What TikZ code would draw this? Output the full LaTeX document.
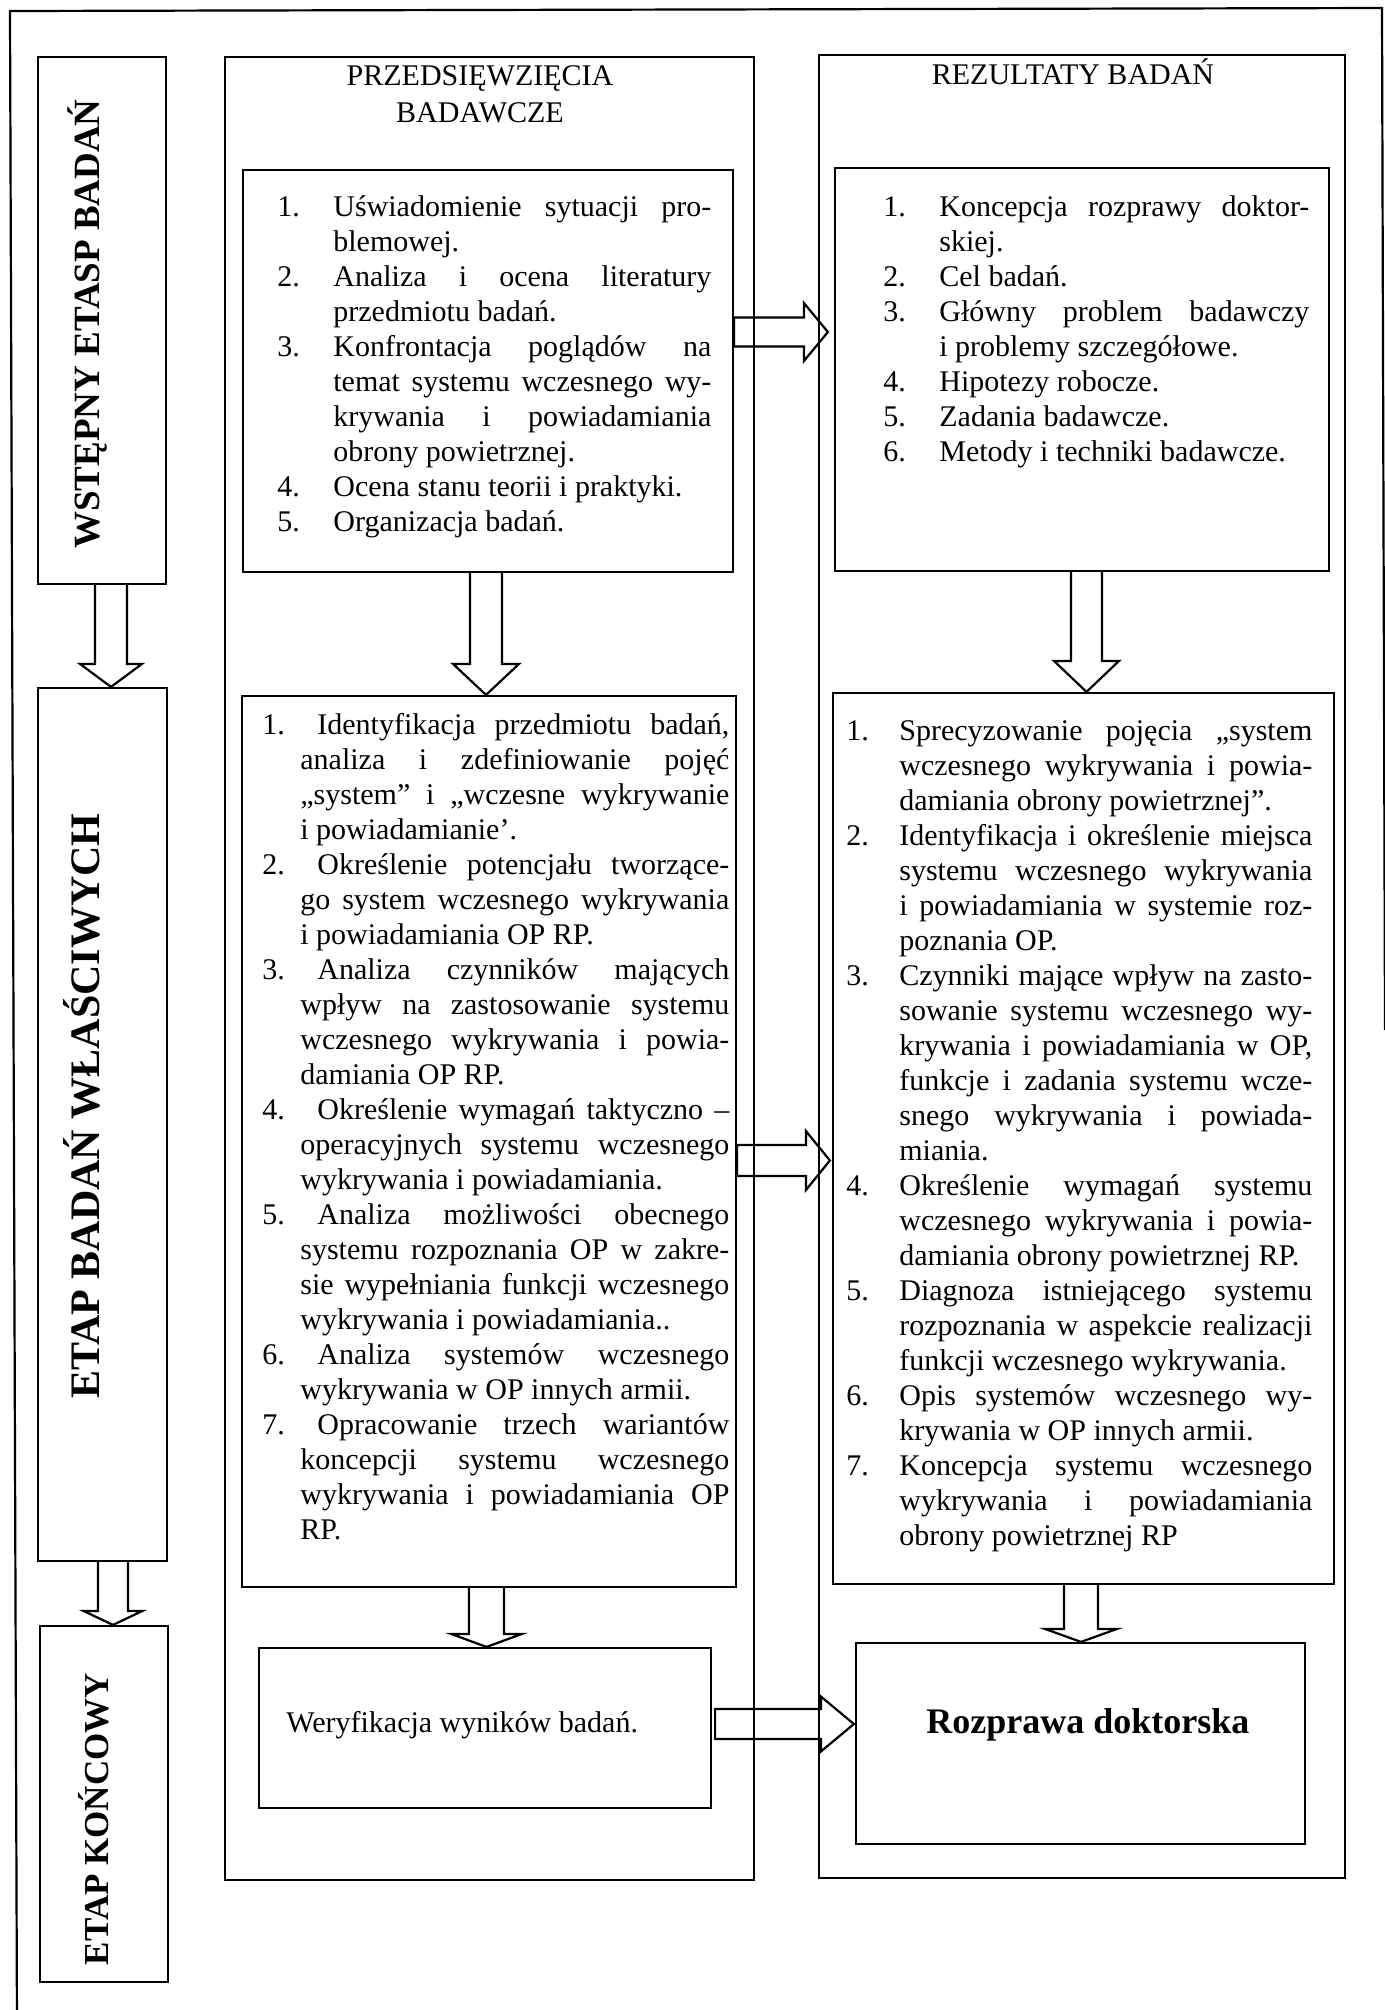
\documentclass[tikz,border=0pt]{standalone}
\usepackage{fontspec}
\setmainfont{Liberation Serif}
\usetikzlibrary{calc,fit}
\newcommand\listsetup{\fontsize{15pt}{17.5pt}\selectfont\parindent=0pt\parskip=0pt\leftskip=0pt\rightskip=0pt\tolerance=10000\pretolerance=-1\hyphenpenalty=10000\hbadness=10000\lineskiplimit=-20pt\emergencystretch=0pt}
\newcommand\li[3]{\noindent\hangindent=#1\relax\hangafter=1\relax\makebox[#2][l]{#3}\ignorespaces}
% down block arrow: from, to, x centre, shaft half width, head half width, head length (all px)
\newcommand\blkdown[6]{\draw[blk] let \p1=(#1.south), \p2=(#2.north) in
  ({(#3-#4)*0.5pt},\y1) -- ({(#3-#4)*0.5pt},{\y2+#6*0.5pt}) -- ({(#3-#5)*0.5pt},{\y2+#6*0.5pt})
  -- ({#3*0.5pt},\y2) -- ({(#3+#5)*0.5pt},{\y2+#6*0.5pt}) -- ({(#3+#4)*0.5pt},{\y2+#6*0.5pt})
  -- ({(#3+#4)*0.5pt},\y1);}
% right block arrow: from, to, y centre, shaft half, head half, head length, start gap, tip gap (px)
\newcommand\blkright[8]{\draw[blk] let \p1=(#1.east), \p2=(#2.west) in
  ({\x1+#7*0.5pt},{-(#3-#4)*0.5pt}) -- ({\x2-(#8+#6)*0.5pt},{-(#3-#4)*0.5pt})
  -- ({\x2-(#8+#6)*0.5pt},{-(#3-#5)*0.5pt}) -- ({\x2-#8*0.5pt},{-#3*0.5pt})
  -- ({\x2-(#8+#6)*0.5pt},{-(#3+#5)*0.5pt}) -- ({\x2-(#8+#6)*0.5pt},{-(#3+#4)*0.5pt})
  -- ({\x1+#7*0.5pt},{-(#3+#4)*0.5pt}) -- cycle;}
\begin{document}
\begin{tikzpicture}[x=0.5pt,y=-0.5pt,
  box/.style={draw,line width=1.1pt,inner sep=0pt},
  blk/.style={draw,line width=1.1pt,line join=miter},
  lab/.style={inner sep=0pt,font=\fontsize{15pt}{17.5pt}\selectfont},
  stage/.style={inner sep=0pt,rotate=90,anchor=base}]
\useasboundingbox (0,0) rectangle (1385,2010);
\clip (0,0) rectangle (1385,2010);
% outer frame
\draw[line width=1.1pt] (17,2030) -- (10,11) -- (1382,8) -- (1385,1030);
% stage boxes
\node[box, fit={(38,57) (166,584)}] (A) {};
\node[box, fit={(38,688) (167,1561)}] (B) {};
\node[box, fit={(40,1626) (168,1982)}] (C) {};
% columns
\node[box, fit={(225,57) (754,1880)}] (midcol) {};
\node[box, fit={(819,55) (1345,1878)}] (rcol) {};
% inner boxes
\node[box, fit={(243,170) (733,572)}] (mb1) {};
\node[box, fit={(242,696) (736,1587)}] (mb2) {};
\node[box, fit={(259,1648) (711,1808)}] (wer) {};
\node[box, fit={(835,168) (1329,571)}] (rb1) {};
\node[box, fit={(833,693) (1334,1584)}] (rb2) {};
\node[box, fit={(856,1643) (1305,1844)}] (roz) {};
% stage labels
\node[stage, font=\fontsize{18.5pt}{20pt}\selectfont\bfseries] (LA) at (99,324) {WSTĘPNY ETASP BADAŃ};
\node[stage, font=\fontsize{21pt}{23pt}\selectfont\bfseries] (LB) at (99,1106) {ETAP BADAŃ WŁAŚCIWYCH};
\node[stage, font=\fontsize{17.5pt}{20pt}\selectfont\bfseries] (LC) at (108,1819) {ETAP KOŃCOWY};
% titles
\node[lab, anchor=base] (t1) at (480,85) {PRZEDSIĘWZIĘCIA};
\node[lab, anchor=base] (t2) at (480,122) {BADAWCZE};
\node[lab, anchor=base] (t3) at (1073,84) {REZULTATY BADAŃ};
% lists
\node[inner sep=0pt, anchor=base west] (l1) at (277,216) {\vtop{\hsize=217pt\listsetup
\li{28pt}{28pt}{1.}Uświadomienie sytuacji pro-\linebreak blemowej.\par
\li{28pt}{28pt}{2.}Analiza i ocena literatury\linebreak przedmiotu badań.\par
\li{28pt}{28pt}{3.}Konfrontacja poglądów na\linebreak temat systemu wczesnego wy-\linebreak krywania i powiadamiania\linebreak obrony powietrznej.\par
\li{28pt}{28pt}{4.}Ocena stanu teorii i praktyki.\par
\li{28pt}{28pt}{5.}Organizacja badań.\par}};
\node[inner sep=0pt, anchor=base west] (l2) at (883,216) {\vtop{\hsize=213pt\listsetup
\li{28pt}{28pt}{1.}Koncepcja rozprawy doktor-\linebreak skiej.\par
\li{28pt}{28pt}{2.}Cel badań.\par
\li{28pt}{28pt}{3.}Główny problem badawczy\linebreak i problemy szczegółowe.\par
\li{28pt}{28pt}{4.}Hipotezy robocze.\par
\li{28pt}{28pt}{5.}Zadania badawcze.\par
\li{28pt}{28pt}{6.}Metody i techniki badawcze.\par}};
\node[inner sep=0pt, anchor=base west] (l3) at (262,734) {\vtop{\hsize=233.5pt\listsetup
\li{19pt}{27.5pt}{1.}Identyfikacja przedmiotu badań,\linebreak analiza i zdefiniowanie pojęć\linebreak „system” i „wczesne wykrywanie\linebreak i powiadamianie’.\par
\li{19pt}{27.5pt}{2.}Określenie potencjału tworzące-\linebreak go system wczesnego wykrywania\linebreak i powiadamiania OP RP.\par
\li{19pt}{27.5pt}{3.}Analiza czynników mających\linebreak wpływ na zastosowanie systemu\linebreak wczesnego wykrywania i powia-\linebreak damiania OP RP.\par
\li{19pt}{27.5pt}{4.}Określenie wymagań taktyczno –\linebreak operacyjnych systemu wczesnego\linebreak wykrywania i powiadamiania.\par
\li{19pt}{27.5pt}{5.}Analiza możliwości obecnego\linebreak systemu rozpoznania OP w zakre-\linebreak sie wypełniania funkcji wczesnego\linebreak wykrywania i powiadamiania..\par
\li{19pt}{27.5pt}{6.}Analiza systemów wczesnego\linebreak wykrywania w OP innych armii.\par
\li{19pt}{27.5pt}{7.}Opracowanie trzech wariantów\linebreak koncepcji systemu wczesnego\linebreak wykrywania i powiadamiania OP\linebreak RP.\par}};
\node[inner sep=0pt, anchor=base west] (l4) at (846,740) {\vtop{\hsize=233pt\listsetup
\li{26.5pt}{26.5pt}{1.}Sprecyzowanie pojęcia „system\linebreak wczesnego wykrywania i powia-\linebreak damiania obrony powietrznej”.\par
\li{26.5pt}{26.5pt}{2.}Identyfikacja i określenie miejsca\linebreak systemu wczesnego wykrywania\linebreak i powiadamiania w systemie roz-\linebreak poznania OP.\par
\li{26.5pt}{26.5pt}{3.}Czynniki mające wpływ na zasto-\linebreak sowanie systemu wczesnego wy-\linebreak krywania i powiadamiania w OP,\linebreak funkcje i zadania systemu wcze-\linebreak snego wykrywania i powiada-\linebreak miania.\par
\li{26.5pt}{26.5pt}{4.}Określenie wymagań systemu\linebreak wczesnego wykrywania i powia-\linebreak damiania obrony powietrznej RP.\par
\li{26.5pt}{26.5pt}{5.}Diagnoza istniejącego systemu\linebreak rozpoznania w aspekcie realizacji\linebreak funkcji wczesnego wykrywania.\par
\li{26.5pt}{26.5pt}{6.}Opis systemów wczesnego wy-\linebreak krywania w OP innych armii.\par
\li{26.5pt}{26.5pt}{7.}Koncepcja systemu wczesnego\linebreak wykrywania i powiadamiania\linebreak obrony powietrznej RP\par}};
% single texts
\node[lab, anchor=base west] (wtxt) at (286,1732) {Weryfikacja wyników badań.};
\node[inner sep=0pt, anchor=base, font=\fontsize{18pt}{20pt}\selectfont\bfseries] (rtxt) at (1088,1733) {Rozprawa doktorska};
% block arrows
\blkdown{A}{B}{111}{16}{31}{23}
\blkdown{B}{C}{113}{15}{29.5}{14}
\blkdown{mb1}{mb2}{486}{16}{33}{31}
\blkdown{mb2}{wer}{486.5}{17.5}{35.5}{13}
\blkdown{rb1}{rb2}{1086.5}{15.5}{32.5}{31}
\blkdown{rb2}{roz}{1081}{17}{36}{13}
\blkright{mb1}{rb1}{332}{14.5}{29}{24}{0}{6}
\blkright{mb2}{rb2}{1160.5}{15.5}{29.5}{24}{0}{2}
\blkright{wer}{roz}{1724}{15}{27.5}{33}{3}{1}
\end{tikzpicture}
\end{document}
